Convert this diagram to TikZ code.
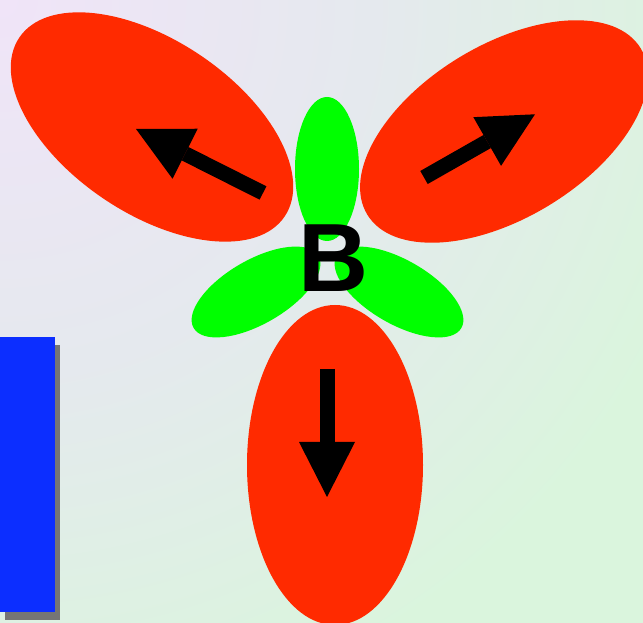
\documentclass[tikz,border=0pt]{standalone}
\usepackage{fontspec}
\setmainfont{Liberation Sans}
\usetikzlibrary{arrows.meta}
\definecolor{lav}{RGB}{240,228,248}
\definecolor{midg}{RGB}{229,233,238}
\definecolor{grn}{RGB}{218,245,221}
\pgfdeclareradialshading{bgshade}{\pgfpoint{0bp}{0bp}}{color(0bp)=(lav); color(7.5bp)=(midg); color(15bp)=(grn); color(50bp)=(grn)}
\definecolor{lobered}{RGB}{255,42,0}
\definecolor{lobegreen}{RGB}{0,255,0}
\definecolor{barblue}{RGB}{12,46,255}
\definecolor{shadowgray}{RGB}{117,117,117}
\begin{document}
\begin{tikzpicture}[x=1pt,y=1pt,
  redlobe/.style={fill=lobered, draw=none},
  greenlobe/.style={fill=lobegreen, draw=none},
  spin/.style={line width=15pt, black, -{Triangle[length=55pt,width=56pt,line width=0pt]}}]
\useasboundingbox (0,0) rectangle (643,623);
\begin{scope}
  \clip (0,0) rectangle (643,623);
  \fill[grn] (0,0) rectangle (643,623);
  \shade[shading=bgshade] (0,623) circle[radius=1240];
  % red lobes
  \fill[redlobe, shift={(152,496)}, rotate=-34] (0,0) ellipse[x radius=160, y radius=86.5];
  \fill[redlobe, shift={(504,491.5)}, rotate=31.3] (0,0) ellipse[x radius=160, y radius=86.5];
  \fill[redlobe] (335,158) ellipse[x radius=88, y radius=160];
  % green lobes
  \fill[greenlobe] (327,454) ellipse[x radius=32, y radius=72];
  \fill[greenlobe, shift={(256,331)}, rotate=30] (0,0) ellipse[x radius=72, y radius=32];
  \fill[greenlobe, shift={(399,331)}, rotate=-30] (0,0) ellipse[x radius=72, y radius=32];
  % blue bar with shadow
  \fill[shadowgray] (5,3) rectangle (60,278);
  \fill[barblue] (0,11) rectangle (55,286);
\end{scope}
\node[font=\bfseries\fontsize{97}{97}\selectfont, inner sep=0pt, anchor=base] (b) at (334,331) {B};
\coordinate (tlTail) at (263,430);
\coordinate (tlTip) at (136,494);
\coordinate (trTail) at (424,445.5);
\coordinate (trTip) at (535,508.7);
\coordinate (btTail) at (327,254);
\coordinate (btTip) at (327,126);
\draw[spin] (tlTail) -- (tlTip);
\draw[spin] (trTail) -- (trTip);
\draw[spin] (btTail) -- (btTip);
\end{tikzpicture}
\end{document}
